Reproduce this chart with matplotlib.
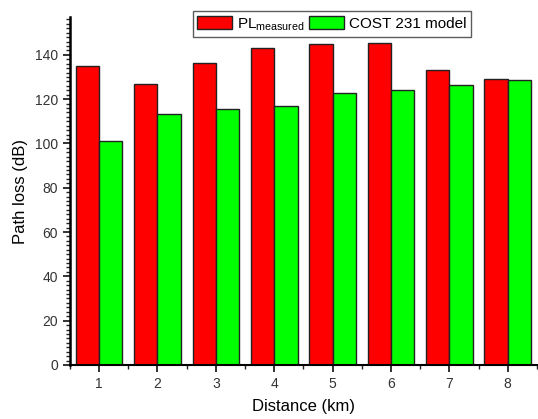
import matplotlib.pyplot as plt
import numpy as np
from matplotlib.ticker import MultipleLocator

plt.rcParams['font.family'] = ['Liberation Sans', 'DejaVu Sans']
plt.rcParams['mathtext.fontset'] = 'custom'
plt.rcParams['mathtext.rm'] = 'Liberation Sans'

distance = [1, 2, 3, 4, 5, 6, 7, 8]
pl_measured = [135.0, 127.0, 136.3, 143.1, 145.0, 145.5, 133.3, 129.3]
cost231 = [101.1, 113.2, 115.7, 116.8, 122.9, 124.1, 126.5, 128.8]

x = np.array(distance)
w = 0.4

fig = plt.figure(figsize=(5.38, 4.19), dpi=100)
ax = fig.add_axes([0.130, 0.129, 0.868, 0.830])

ax.bar(x - w/2, pl_measured, w, color='#ff0000', edgecolor='#222222', lw=1,
       label=r'PL$_{\mathrm{measured}}$')
ax.bar(x + w/2, cost231, w, color='#00ff00', edgecolor='#222222', lw=1,
       label='COST 231 model')

ax.set_xlim(0.5, 8.5)
ax.set_ylim(0, 157)
ax.set_xticks(distance)
ax.xaxis.set_minor_locator(MultipleLocator(0.5))
ax.yaxis.set_minor_locator(MultipleLocator(2))
ax.set_yticks(range(0, 141, 20))

for s in ['top', 'right']:
    ax.spines[s].set_visible(False)
ax.spines['left'].set_linewidth(1.8)
ax.spines['bottom'].set_linewidth(1.5)

ax.tick_params(which='major', direction='out', length=5, width=1.3,
               labelsize=10, colors='#222222', labelcolor='#333333')
ax.tick_params(which='minor', direction='out', length=3, width=1, colors='#222222')

ax.set_xlabel('Distance (km)', fontsize=12, labelpad=6)
ax.set_ylabel('Path loss (dB)', fontsize=12, labelpad=5)

leg = ax.legend(loc='upper left', bbox_to_anchor=(0.263, 1.017), ncol=2,
                fontsize=11, frameon=True, fancybox=False, edgecolor='#333333',
                handlelength=2.3, handleheight=0.9, handletextpad=0.3,
                columnspacing=0.3, borderpad=0.3, borderaxespad=0)
leg.get_frame().set_linewidth(1)
leg.set_zorder(5)

fig.savefig('out.png', dpi=100)
